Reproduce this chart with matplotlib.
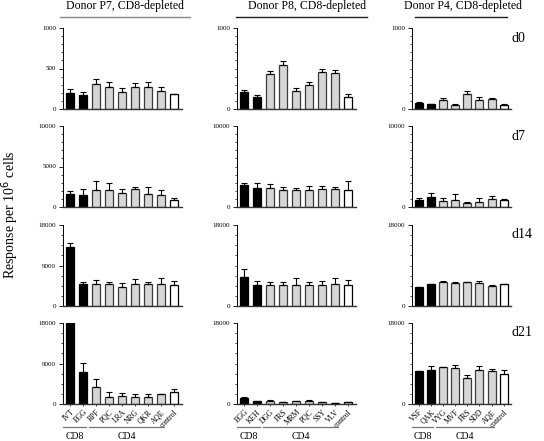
import numpy as np
import matplotlib
matplotlib.use("Agg")
import matplotlib.pyplot as plt
import matplotlib.transforms as mtransforms
from matplotlib.lines import Line2D

plt.rcParams['font.family'] = ['Liberation Serif', 'DejaVu Serif']

# ---- datos ----
donors = ["Donor P7, CD8-depleted", "Donor P8, CD8-depleted", "Donor P4, CD8-depleted"]
days = ["d0", "d7", "d14", "d21"]

p7_labels = ["IVT", "EGG", "RPF", "PQC", "LRA", "NRG", "QKR", "AQE", "control"]
p8_labels = ["EGG", "KEH", "DGG", "FRS", "MRM", "PQC", "SSY", "VLV", "control"]
p4_labels = ["VSF", "QAK", "VYG", "MVF", "FRS", "SDD", "AQE", "control"]

# grupo de cada barra: CD8 (negro), CD4 (gris), control (blanco)
p7_groups = ["CD8", "CD8", "CD4", "CD4", "CD4", "CD4", "CD4", "CD4", "ctrl"]
p8_groups = ["CD8", "CD8", "CD4", "CD4", "CD4", "CD4", "CD4", "CD4", "ctrl"]
p4_groups = ["CD8", "CD8", "CD4", "CD4", "CD4", "CD4", "CD4", "ctrl"]

# valores (media) y error superior por dia
p7_d0 = [202, 173, 305, 276, 214, 272, 272, 222, 181]
p7_d0_err = [41, 33, 61, 61, 41, 45, 57, 45, 4]
p7_d7 = [1550, 1510, 2160, 2160, 1710, 2240, 1590, 1510, 900]
p7_d7_err = [410, 690, 1020, 780, 490, 210, 900, 570, 200]
p7_d14 = [13180, 4810, 4810, 4810, 4150, 4810, 4810, 4810, 4670]
p7_d14_err = [750, 520, 890, 600, 960, 1120, 450, 1490, 810]
p7_d21 = [18000, 7010, 3690, 1550, 1700, 1480, 1480, 2140, 2580]
p7_d21_err = [0, 2210, 1770, 1030, 660, 660, 660, 70, 740]

p8_d0 = [215, 153, 434, 541, 223, 298, 455, 446, 153]
p8_d0_err = [20, 21, 41, 54, 37, 41, 45, 37, 29]
p8_d7 = [2690, 2330, 2330, 2040, 2080, 2160, 2240, 2240, 2120]
p8_d7_err = [250, 650, 450, 370, 210, 490, 410, 250, 1060]
p8_d14 = [6520, 4590, 4590, 4590, 4590, 4590, 4590, 4890, 4590]
p8_d14_err = [1630, 970, 820, 820, 1560, 820, 970, 1260, 1190]
p8_d21 = [1330, 590, 660, 440, 590, 660, 370, 220, 370]
p8_d21_err = [150, 70, 150, 70, 70, 300, 70, 70, 70]

p4_d0 = [78, 62, 116, 54, 186, 116, 124, 45]
p4_d0_err = [5, 4, 20, 4, 41, 37, 16, 21]
p4_d7 = [820, 1180, 690, 900, 450, 610, 1020, 820]
p4_d7_err = [240, 530, 370, 650, 200, 450, 290, 160]
p4_d14 = [4220, 4810, 5330, 5190, 5260, 5190, 4440, 4810]
p4_d14_err = [0, 0, 150, 220, 150, 370, 150, 0]
p4_d21 = [7380, 7520, 8260, 8040, 5680, 7450, 7300, 6570]
p4_d21_err = [0, 890, 70, 660, 810, 890, 520, 880]

ymax = [1000, 10000, 18000, 18000]
yticks_first = [[0, 500, 1000], [0, 5000, 10000], [0, 9000, 18000], [0, 9000, 18000]]
minor_step = [100, 1000, 2250, 2250]

columnas = [
    (p7_labels, p7_groups, [(p7_d0, p7_d0_err), (p7_d7, p7_d7_err), (p7_d14, p7_d14_err), (p7_d21, p7_d21_err)]),
    (p8_labels, p8_groups, [(p8_d0, p8_d0_err), (p8_d7, p8_d7_err), (p8_d14, p8_d14_err), (p8_d21, p8_d21_err)]),
    (p4_labels, p4_groups, [(p4_d0, p4_d0_err), (p4_d7, p4_d7_err), (p4_d14, p4_d14_err), (p4_d21, p4_d21_err)]),
]

colores = {"CD8": "black", "CD4": "#d6d6d6", "ctrl": "white"}
bordes = {"CD8": "black", "CD4": "#3a3a3a", "ctrl": "black"}

W, H = 544, 441
fig = plt.figure(figsize=(W / 100, H / 100), dpi=100)

# posiciones en pixeles
col_left = [63, 237, 412]
col_width = [119, 119, 99]
row_top = [28, 126, 225, 323]
row_h = 81

for c, (labels, groups, series) in enumerate(columnas):
    n = len(labels)
    x = np.arange(n)
    for r in range(4):
        vals, errs = series[r]
        ax = fig.add_axes([col_left[c] / W, (H - row_top[r] - row_h) / H,
                           col_width[c] / W, row_h / H])
        ax.bar(x, vals, width=0.65,
               color=[colores[g] for g in groups],
               edgecolor=[bordes[g] for g in groups], linewidth=0.9, zorder=2)
        ax.errorbar(x, vals, yerr=[np.zeros(n), errs], fmt="none",
                    ecolor="black", elinewidth=0.8, capsize=2.5, capthick=0.8, zorder=3)
        ax.set_xlim(-0.55, n - 0.4)
        ax.set_ylim(0, ymax[r])
        ax.spines["top"].set_visible(False)
        ax.spines["right"].set_visible(False)
        ax.spines["left"].set_linewidth(0.7)
        ax.spines["bottom"].set_linewidth(1.0)
        ax.spines["bottom"].set_color("#333333")
        if c == 0:
            ax.set_yticks(yticks_first[r])
        else:
            ax.set_yticks([0, ymax[r]])
        ax.set_yticks(np.arange(0, ymax[r] + 1, minor_step[r]), minor=True)
        ax.tick_params(axis="y", which="major", labelsize=5, length=3, width=0.6, pad=2)
        ax.tick_params(axis="y", which="minor", length=1.8, width=0.5)
        if r == 3:
            ax.set_xticks(x)
            ax.set_xticklabels(labels, rotation=45, ha="right", rotation_mode="anchor",
                               fontsize=5.5)
            desplaza = mtransforms.ScaledTranslation(5 / 72, 0, fig.dpi_scale_trans)
            for lab in ax.get_xticklabels():
                lab.set_transform(lab.get_transform() + desplaza)
            ax.tick_params(axis="x", length=1.5, width=0.5, pad=1.5)
            # lineas de grupo CD8 / CD4
            tr = ax.get_xaxis_transform()
            for g in ["CD8", "CD4"]:
                idx = [i for i, gg in enumerate(groups) if gg == g]
                x0, x1 = idx[0] - 0.55, idx[-1] + 0.2
                ax.plot([x0, x1], [-0.28, -0.28], transform=tr, color="#777777",
                        lw=0.9, clip_on=False)
                ax.text((x0 + x1) / 2, -0.4, g, transform=tr, ha="center", va="center",
                        fontsize=7)
        else:
            ax.set_xticks([])
        if c == 2:
            fig.text(512 / W, 1 - (row_top[r] + 10) / H, days[r], fontsize=10,
                     ha="left", va="center")

# titulos de donante con linea
titulos_x = [125, 307, 463]
lineas_x = [(60, 190), (236, 367), (415, 507)]
color_linea = ["#888888", "#222222", "#222222"]
for c in range(3):
    fig.text(titulos_x[c] / W, 1 - 6 / H, donors[c], fontsize=8.5, ha="center", va="center")
    x0, x1 = lineas_x[c]
    fig.add_artist(Line2D([x0 / W, x1 / W], [1 - 17 / H, 1 - 17 / H],
                          transform=fig.transFigure, color=color_linea[c], lw=1.0))

fig.text(10 / W, 1 - 215 / H, "Response per 10$^6$ cells", rotation=90,
         fontsize=10, ha="center", va="center")

plt.savefig("out.png", dpi=100)
